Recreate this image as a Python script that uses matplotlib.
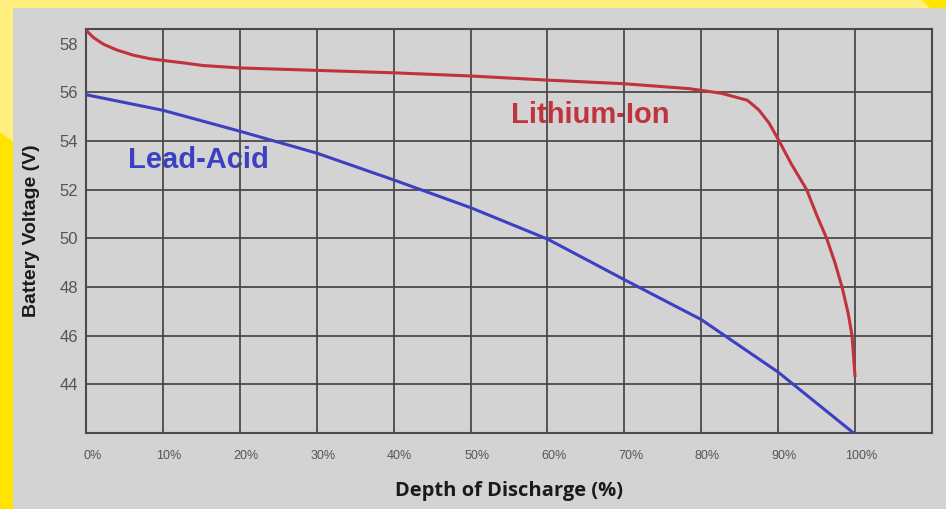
import numpy as np
import matplotlib
matplotlib.use("Agg")
import matplotlib.pyplot as plt
from matplotlib.patches import Rectangle, Polygon

# Data
# -------------------------------------------------------------------
li_dod = [0, 1.0, 2.3, 4.0, 6.2, 8.3, 10, 12.6, 15.2, 20, 30, 40, 50, 60, 70, 78.4,
          82.6, 86.0, 87.5, 88.8, 90.0, 91.7, 93.7, 95.0, 96.3, 97.4, 98.3, 99.1, 99.6, 99.85, 100]
li_volt = [58.55, 58.24, 57.97, 57.74, 57.52, 57.38, 57.31, 57.21, 57.1, 57.0, 56.9, 56.8, 56.67, 56.5, 56.35, 56.15,
           55.96, 55.67, 55.27, 54.74, 54.07, 53.06, 52.0, 50.96, 50.0, 48.98, 48.0, 46.92, 46.0, 44.94, 44.3]

pb_dod = [0, 10, 20, 30, 40, 50, 60, 70, 80, 90, 100]
pb_volt = [55.9, 55.26, 54.4, 53.5, 52.4, 51.26, 49.97, 48.3, 46.66, 44.5, 41.95]

x_ticks = [0, 10, 20, 30, 40, 50, 60, 70, 80, 90, 100]
x_labels = [f"{t}%" for t in x_ticks]
y_ticks = [44, 46, 48, 50, 52, 54, 56, 58]

RED = "#c0323c"
BLUE = "#3c40c2"
GRID = "#4a4a4a"
PANEL = "#d3d3d3"

# Frame
# -------------------------------------------------------------------
fig = plt.figure(figsize=(9.46, 5.09), dpi=100)
fig.patch.set_facecolor("#ffef7c")

# bright yellow wedges, gray panel behind the axes
fig.patches.append(Polygon([[0, 0], [0, 0.74], [0.03, 0.70], [0.03, 0]], closed=True,
                           transform=fig.transFigure, facecolor="#ffe400", edgecolor="none", zorder=-3))
fig.patches.append(Polygon([[0.975, 1], [1, 1], [1, 0.95]], closed=True,
                           transform=fig.transFigure, facecolor="#ffe400", edgecolor="none", zorder=-3))
fig.patches.append(Rectangle((13 / 946, 0), 1, 1 - 8 / 509, transform=fig.transFigure,
                             facecolor=PANEL, edgecolor="none", zorder=-2))

ax = fig.add_axes([86 / 946, 1 - 433 / 509, (932 - 86) / 946, (433 - 29) / 509])
ax.set_facecolor(PANEL)
ax.set_xlim(0, 110)
ax.set_ylim(42, 58.6)

# grid
for x in x_ticks[1:]:
    ax.axvline(x, color=GRID, lw=1.3, zorder=2)
for y in y_ticks[:-1]:
    ax.axhline(y, color=GRID, lw=1.3, zorder=2)
for s in ax.spines.values():
    s.set_color(GRID)
    s.set_linewidth(1.5)

ax.plot(li_dod, li_volt, color=RED, lw=2.2, zorder=3, solid_capstyle="butt", solid_joinstyle="round")
ax.plot(pb_dod, pb_volt, color=BLUE, lw=2.2, zorder=3, solid_capstyle="butt", solid_joinstyle="round")

ax.text(65.5, 55.05, "Lithium-Ion", color=RED, fontsize=21, fontweight="bold",
        family="Liberation Sans", ha="center", va="center", zorder=1)
ax.text(5.5, 53.2, "Lead-Acid", color=BLUE, fontsize=21, fontweight="bold",
        family="Liberation Sans", ha="left", va="center", zorder=1)

# tick labels sit a bit right of their gridlines
ax.set_xticks(np.array(x_ticks) + 0.8)
ax.set_xticklabels(x_labels, fontsize=9, color="#555555", family="Liberation Sans")
ax.tick_params(axis="x", length=0, pad=12)

ax.set_yticks(y_ticks)
ax.set_yticklabels([str(t) for t in y_ticks], fontsize=12, color="#555555", family="Liberation Sans")
ax.tick_params(axis="y", length=0, pad=6)

ax.set_xlabel("Depth of Discharge (%)", fontsize=14.5, fontweight="bold", family="Open Sans",
              color="#1a1a1a", labelpad=14)
ax.set_ylabel("Battery Voltage (V)", fontsize=14, fontweight="bold", family="Liberation Sans",
              color="#1a1a1a", labelpad=14)

fig.savefig("out.png", dpi=100, facecolor=fig.get_facecolor())
